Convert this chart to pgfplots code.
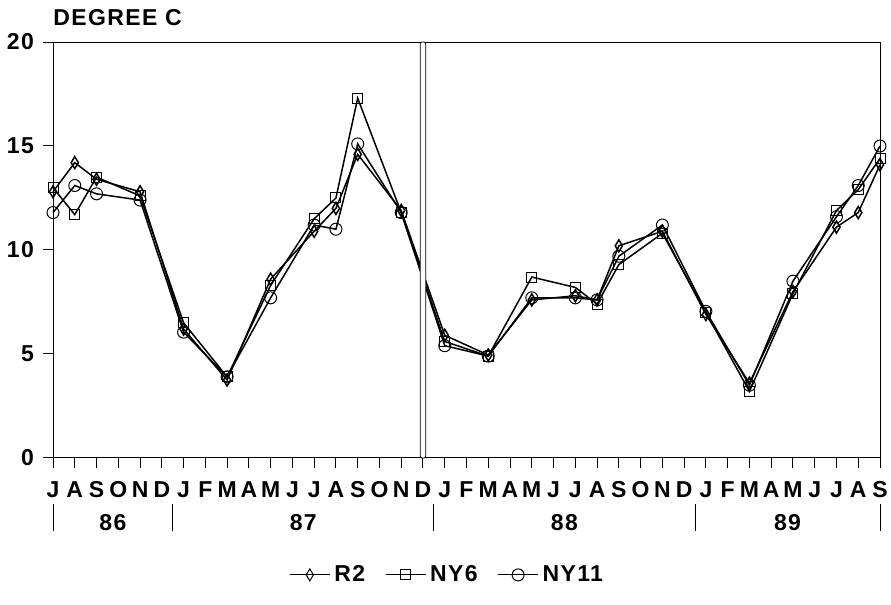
\documentclass[border=0pt]{standalone}
\usepackage{fontspec}
\setmainfont{Liberation Sans}[LetterSpace=6]
\usepackage{pgfplots}
\pgfplotsset{compat=1.18}
\newcommand{\lblfont}{\bfseries\fontsize{11.5}{13.5}\selectfont}

\begin{document}
\begin{tikzpicture}
\begin{axis}[
    scale only axis,
    width=413.5pt, height=208pt,
    xmin=0, xmax=38, ymin=0, ymax=20,
    clip=false,
    axis line style={line width=0.5pt},
    tick style={line width=0.5pt, black},
    tick align=outside,
    major tick length=5pt,
    xtick pos=left, ytick pos=left,
    xtick={0,...,38},
    xticklabels={J,A,S,O,N,D,J,F,M,A,M,J,J,A,S,O,N,D,J,F,M,A,M,J,J,A,S,O,N,D,J,F,M,A,M,J,J,A,S},
    ytick={0,5,10,15,20},
    /pgf/number format/assume math mode=true,
    ticklabel style={font=\lblfont},
    xticklabel style={text height=8.3pt, text depth=0pt, yshift=-3pt},
    yticklabel style={xshift=-1pt},
    legend style={at={(rel axis cs:0.278,-0.281)}, anchor=west, draw=none,
        font=\lblfont,
        /tikz/every even column/.append style={column sep=8pt}},
    legend columns=3,
    legend image code/.code={
        \draw[mark repeat=2,mark phase=2,#1,line width=0.5pt] plot coordinates {(0pt,0pt) (10pt,0pt) (20pt,0pt)};},
    every axis plot/.append style={black, line width=0.75pt, mark options={solid, fill=none, line width=0.5pt}},
]
% R2
\addplot[mark=diamond, mark size=3pt, mark options={xscale=0.8}] coordinates {
(0,12.8) (1,14.2) (2,13.4) (4,12.8) (6,6.2) (8,3.75) (10,8.6) (12,10.9) (13,12.0) (14,14.6) (16,11.9)
(18,5.9) (20,4.95) (22,7.6) (24,7.8) (25,7.6) (26,10.2) (28,10.9) (30,6.9) (32,3.6) (34,8.0) (36,11.1) (37,11.8) (38,14.1)
};
\addlegendentry{R2}
% NY6
\addplot[mark=square, mark size=2.5pt] coordinates {
(0,13.0) (1,11.7) (2,13.5) (4,12.6) (6,6.5) (8,3.9) (10,8.3) (12,11.5) (13,12.5) (14,17.3) (16,11.8)
(18,5.6) (20,4.9) (22,8.7) (24,8.2) (25,7.4) (26,9.3) (28,10.8) (30,7.0) (32,3.2) (34,7.9) (36,11.9) (37,12.9) (38,14.4)
};
\addlegendentry{NY6}
% NY11
\addplot[mark=o, mark size=3pt] coordinates {
(0,11.8) (1,13.1) (2,12.7) (4,12.4) (6,6.05) (8,3.9) (10,7.7) (12,11.2) (13,11.0) (14,15.1) (16,11.8)
(18,5.4) (20,4.9) (22,7.7) (24,7.7) (25,7.6) (26,9.7) (28,11.2) (30,7.05) (32,3.5) (34,8.5) (36,11.6) (37,13.1) (38,15.0)
};
\addlegendentry{NY11}

% year divider bar
\draw[fill=white, line width=0.4pt, rounded corners=1pt] (axis cs:16.87,0) rectangle (axis cs:17.13,20);

% year row
\pgfplotsinvokeforeach{0,5.5,17.5,29.5,38}{
  \draw[line width=0.5pt] (axis cs:#1,-2.2) -- (axis cs:#1,-3.5);
}
\node[font=\lblfont] at (axis cs:2.75,-3.1) {86};
\node[font=\lblfont] at (axis cs:11.5,-3.1) {87};
\node[font=\lblfont] at (axis cs:23.5,-3.1) {88};
\node[font=\lblfont] at (axis cs:33.75,-3.1) {89};

\node[anchor=west, inner sep=0pt, font=\lblfont] at (rel axis cs:0,1.058) {DEGREE C};

\coordinate (bbsw) at (rel axis cs:-0.0641,-0.351);
\coordinate (bbne) at (rel axis cs:1.0133,1.101);
\end{axis}
\pgfresetboundingbox
\path[use as bounding box] (bbsw) rectangle (bbne);
\end{tikzpicture}
\end{document}
